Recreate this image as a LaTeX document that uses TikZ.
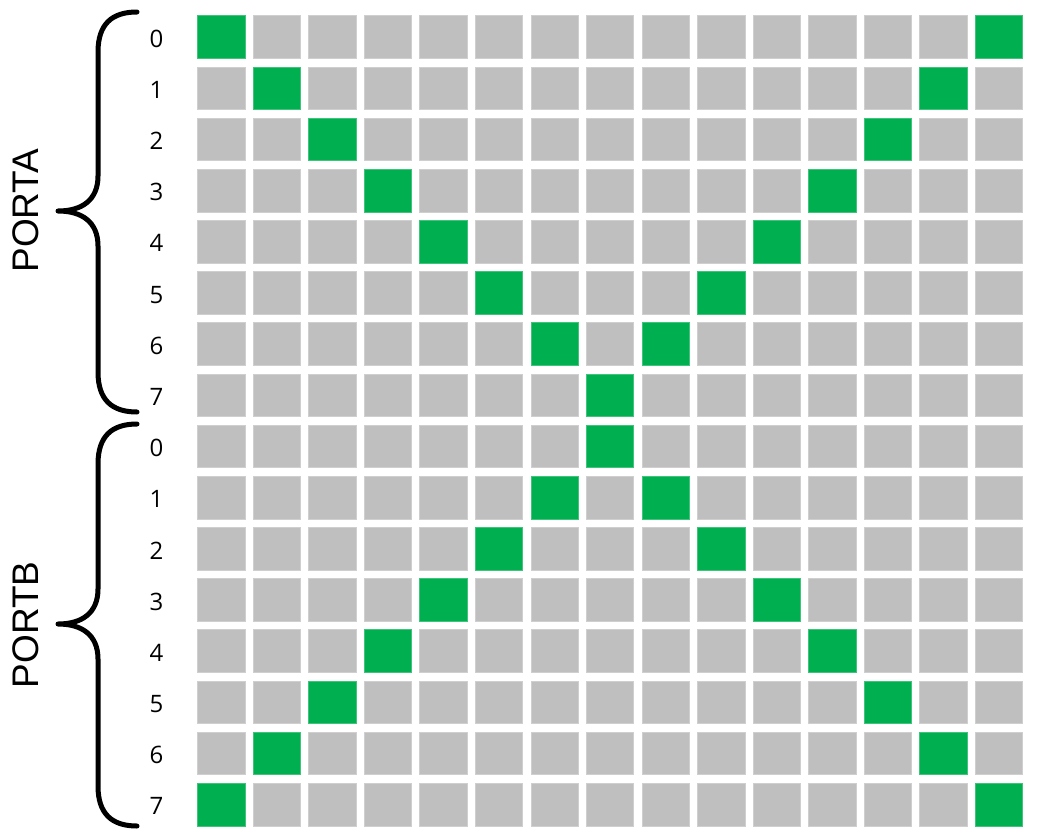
\documentclass[tikz,border=0pt]{standalone}
\usepackage{fontspec}
\setmainfont{Liberation Sans}
\newfontfamily\digitfont{Open Sans}
\definecolor{cellgray}{HTML}{BFBFBF}
\definecolor{cellgreen}{HTML}{00B050}
\begin{document}
\begin{tikzpicture}[x=1pt,y=-1pt,
  cell/.style={draw=#1!75!white, line width=0.7pt, fill=#1, minimum width=47.4pt, minimum height=42.7pt, inner sep=0pt, outer sep=0pt, anchor=north west},
  rowlabel/.style={font=\digitfont\fontsize{24}{24}\selectfont, anchor=center, inner sep=0pt},
  portlabel/.style={font=\fontsize{37}{37}\selectfont, rotate=90, inner sep=0pt, anchor=center},
  bracestyle/.style={line width=5pt, line cap=round, line join=round}]
\useasboundingbox (0,0) rectangle (1052,838);
\foreach \r in {0,...,15}{
  \pgfmathsetmacro{\yy}{15.7+51.17*\r}
  \pgfmathtruncatemacro{\a}{\r<8 ? \r : 15-\r}
  \pgfmathtruncatemacro{\b}{14-\a}
  \pgfmathtruncatemacro{\lab}{mod(\r,8)}
  \node[rowlabel] (lab-\r) at (156.5,\yy+23) {\lab};
  \foreach \c in {0,...,14}{
    \pgfmathsetmacro{\xx}{197.5+55.56*\c}
    \def\col{cellgray}
    \ifnum\c=\a\relax\def\col{cellgreen}\fi
    \ifnum\c=\b\relax\def\col{cellgreen}\fi
    \node[cell=\col] (c-\r-\c) at (\xx,\yy) {};
  }
}
% PORTA brace
\draw[bracestyle] (137,12) .. controls (112,12) and (98,24) .. (98,52) -- (98,176)
  .. controls (98,200) and (82,211) .. (58,211)
  .. controls (82,211) and (98,222) .. (98,246) -- (98,372)
  .. controls (98,400) and (112,412) .. (137,412);
% PORTB brace
\draw[bracestyle] (137,424) .. controls (112,424) and (98,436) .. (98,464) -- (98,589)
  .. controls (98,613) and (82,624) .. (58,624)
  .. controls (82,624) and (98,635) .. (98,659) -- (98,786)
  .. controls (98,814) and (112,826) .. (137,826);
\node[portlabel] (porta) at (26,210.5) {PORTA};
\node[portlabel] (portb) at (26,625) {PORTB};
\end{tikzpicture}
\end{document}
